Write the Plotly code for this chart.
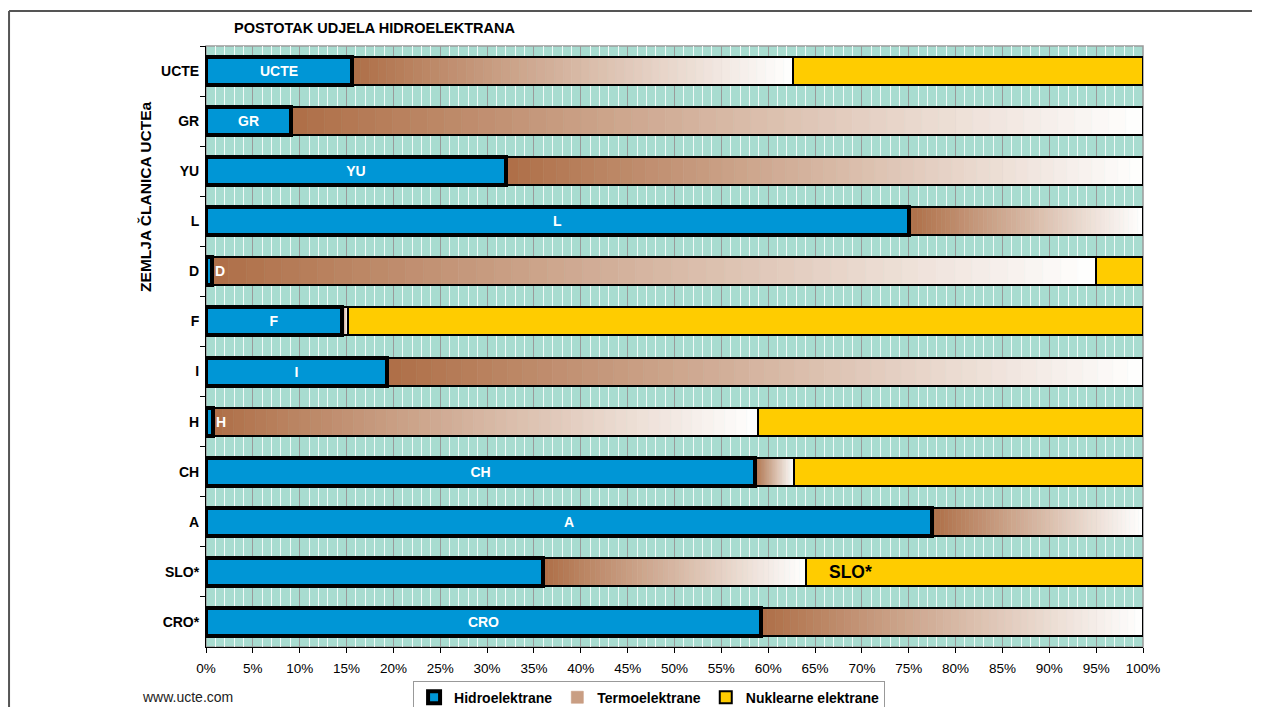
import plotly.graph_objects as go

# ---------------- data ----------------
countries = ["UCTE", "GR", "YU", "L", "D", "F", "I", "H", "CH", "A", "SLO*", "CRO*"]
hydro = [15.6, 9.1, 32.0, 75.0, 0.6, 14.5, 19.3, 0.7, 58.6, 77.5, 36.0, 59.2]
thermo = [47.0, 90.9, 68.0, 25.0, 94.4, 0.7, 80.7, 58.2, 4.2, 22.5, 28.0, 40.8]
nuclear = [37.4, 0.0, 0.0, 0.0, 5.0, 84.8, 0.0, 41.1, 37.2, 0.0, 36.0, 0.0]
hydro_labels = ["UCTE", "GR", "YU", "L", "", "F", "I", "", "CH", "A", "", "CRO"]
edge_label_rows = ["D", "H"]          # labels written just right of tiny hydro bars
nuclear_label_rows = ["SLO*"]          # label written in the nuclear segment
series_names = ["Hidroelektrane", "Termoelektrane", "Nuklearne elektrane"]
x_ticks = list(range(0, 101, 5))
x_tick_text = [f"{v}%" for v in x_ticks]

# ---------------- style ----------------
FONT = "Liberation Sans, Arial, sans-serif"
BLUE = "#0096D6"
YELLOW = "#FFCC00"
BROWN = (174, 110, 70)
WHITE = (255, 255, 255)
BG = "#A8DCD0"
BAR_W = 0.56
STEPS = 50

fig = go.Figure()

# thermal segment drawn as a left-to-right brown-to-white gradient
for i in range(STEPS):
    t = (i + 0.5) / STEPS
    c = tuple(round(BROWN[k] + (WHITE[k] - BROWN[k]) * t) for k in range(3))
    col = "rgb(%d,%d,%d)" % c
    fig.add_trace(go.Bar(
        y=countries,
        x=[v / STEPS for v in thermo],
        base=[h + v * i / STEPS for h, v in zip(hydro, thermo)],
        orientation="h", width=BAR_W,
        marker=dict(color=col, line=dict(color=col, width=0.6)),
        name=series_names[1],
        legendgroup="thermo",
        showlegend=(i == STEPS // 3),
        legendrank=2,
        hoverinfo="skip",
    ))
# thermal outline
fig.add_trace(go.Bar(
    y=countries, x=thermo, base=hydro, orientation="h", width=BAR_W,
    marker=dict(color="rgba(0,0,0,0)", line=dict(color="black", width=2)),
    showlegend=False, hoverinfo="skip",
))
# nuclear
fig.add_trace(go.Bar(
    y=countries, x=[v if v > 0 else None for v in nuclear],
    base=[h + t for h, t in zip(hydro, thermo)],
    orientation="h", width=BAR_W,
    marker=dict(color=YELLOW, line=dict(color="black", width=2)),
    name=series_names[2], legendrank=3, hoverinfo="skip",
))
# hydro
fig.add_trace(go.Bar(
    y=countries, x=hydro, base=[0] * len(hydro),
    orientation="h", width=BAR_W,
    marker=dict(color=BLUE, line=dict(color="black", width=4)),
    text=hydro_labels, textposition="inside", insidetextanchor="middle",
    textfont=dict(family=FONT, size=14, color="white", weight="bold"),
    constraintext="none",
    name=series_names[0], legendrank=1, hoverinfo="skip",
))

annotations = []
for row in edge_label_rows:
    idx = countries.index(row)
    annotations.append(dict(
        x=hydro[idx], y=row, xref="x", yref="y", text=row, showarrow=False,
        xanchor="left", xshift=1,
        font=dict(family=FONT, size=14, color="white", weight="bold")))
for row in nuclear_label_rows:
    idx = countries.index(row)
    annotations.append(dict(
        x=hydro[idx] + thermo[idx], y=row, xref="x", yref="y",
        text=row, showarrow=False,
        xanchor="left", xshift=21,
        font=dict(family=FONT, size=17.5, color="black", weight="bold")))
annotations += [
    dict(x=0.0277, y=1.030, xref="paper", yref="paper", xanchor="left", yanchor="middle",
         text="POSTOTAK UDJELA HIDROELEKTRANA", showarrow=False,
         font=dict(family=FONT, size=14.5, color="black", weight="bold")),
    dict(x=-0.064, y=0.749, xref="paper", yref="paper", xanchor="center", yanchor="middle",
         text="ZEMLJA ČLANICA UCTEa", textangle=-90, showarrow=False,
         font=dict(family=FONT, size=15.5, color="black", weight="bold")),
    dict(x=-0.0704, y=-0.0835, xref="paper", yref="paper", xanchor="left", yanchor="middle",
         text="www.ucte.com", showarrow=False,
         font=dict(family=FONT, size=14, color="#222")),
]

shapes = [
    # plot-area frame (top/right grey)
    dict(type="rect", xref="paper", yref="paper", x0=0, x1=1, y0=0, y1=1,
         line=dict(color="#9A9A9A", width=1.5), layer="between"),
    # outer frame of the picture (left and top)
    dict(type="line", xref="paper", yref="paper", x0=-0.2102, x1=-0.2102, y0=-0.2, y1=1.0582,
         line=dict(color="#555555", width=2)),
    dict(type="line", xref="paper", yref="paper", x0=-0.2102, x1=1.1163, y0=1.0582, y1=1.0582,
         line=dict(color="#555555", width=2)),
]

fig.update_layout(
    width=1261, height=707,
    margin=dict(l=206, r=118, t=46, b=60, autoexpand=False),
    paper_bgcolor="white", plot_bgcolor=BG,
    barmode="overlay", bargap=0,
    font=dict(family=FONT, color="black"),
    showlegend=True,
    legend=dict(orientation="h", x=0.221, xanchor="left", y=-0.056, yanchor="top",
                bordercolor="#999999", borderwidth=1, bgcolor="white",
                font=dict(family=FONT, size=14, color="black", weight="bold"),
                itemwidth=30, traceorder="normal"),
    annotations=annotations,
    shapes=shapes,
)
fig.update_xaxes(
    range=[0, 100], tickvals=x_ticks, ticktext=x_tick_text,
    showgrid=True, gridcolor="#9A9A9A", gridwidth=1,
    minor=dict(dtick=1, showgrid=True, gridcolor="rgba(255,255,255,0.85)", gridwidth=1),
    showline=True, linecolor="black", linewidth=1,
    ticks="outside", ticklen=5, tickcolor="black", ticklabelstandoff=4,
    tickfont=dict(family=FONT, size=13.5, color="black"),
    zeroline=False, fixedrange=True,
)
fig.update_yaxes(
    type="category", categoryorder="array", categoryarray=countries,
    range=[len(countries) - 0.5, -0.5],
    showgrid=False, showline=True, linecolor="black", linewidth=1,
    ticks="outside", tickson="boundaries", ticklen=5, tickcolor="black",
    ticklabelstandoff=3,
    tickfont=dict(family=FONT, size=14, color="black", weight="bold"),
    fixedrange=True,
)

fig.write_html("out.html")
